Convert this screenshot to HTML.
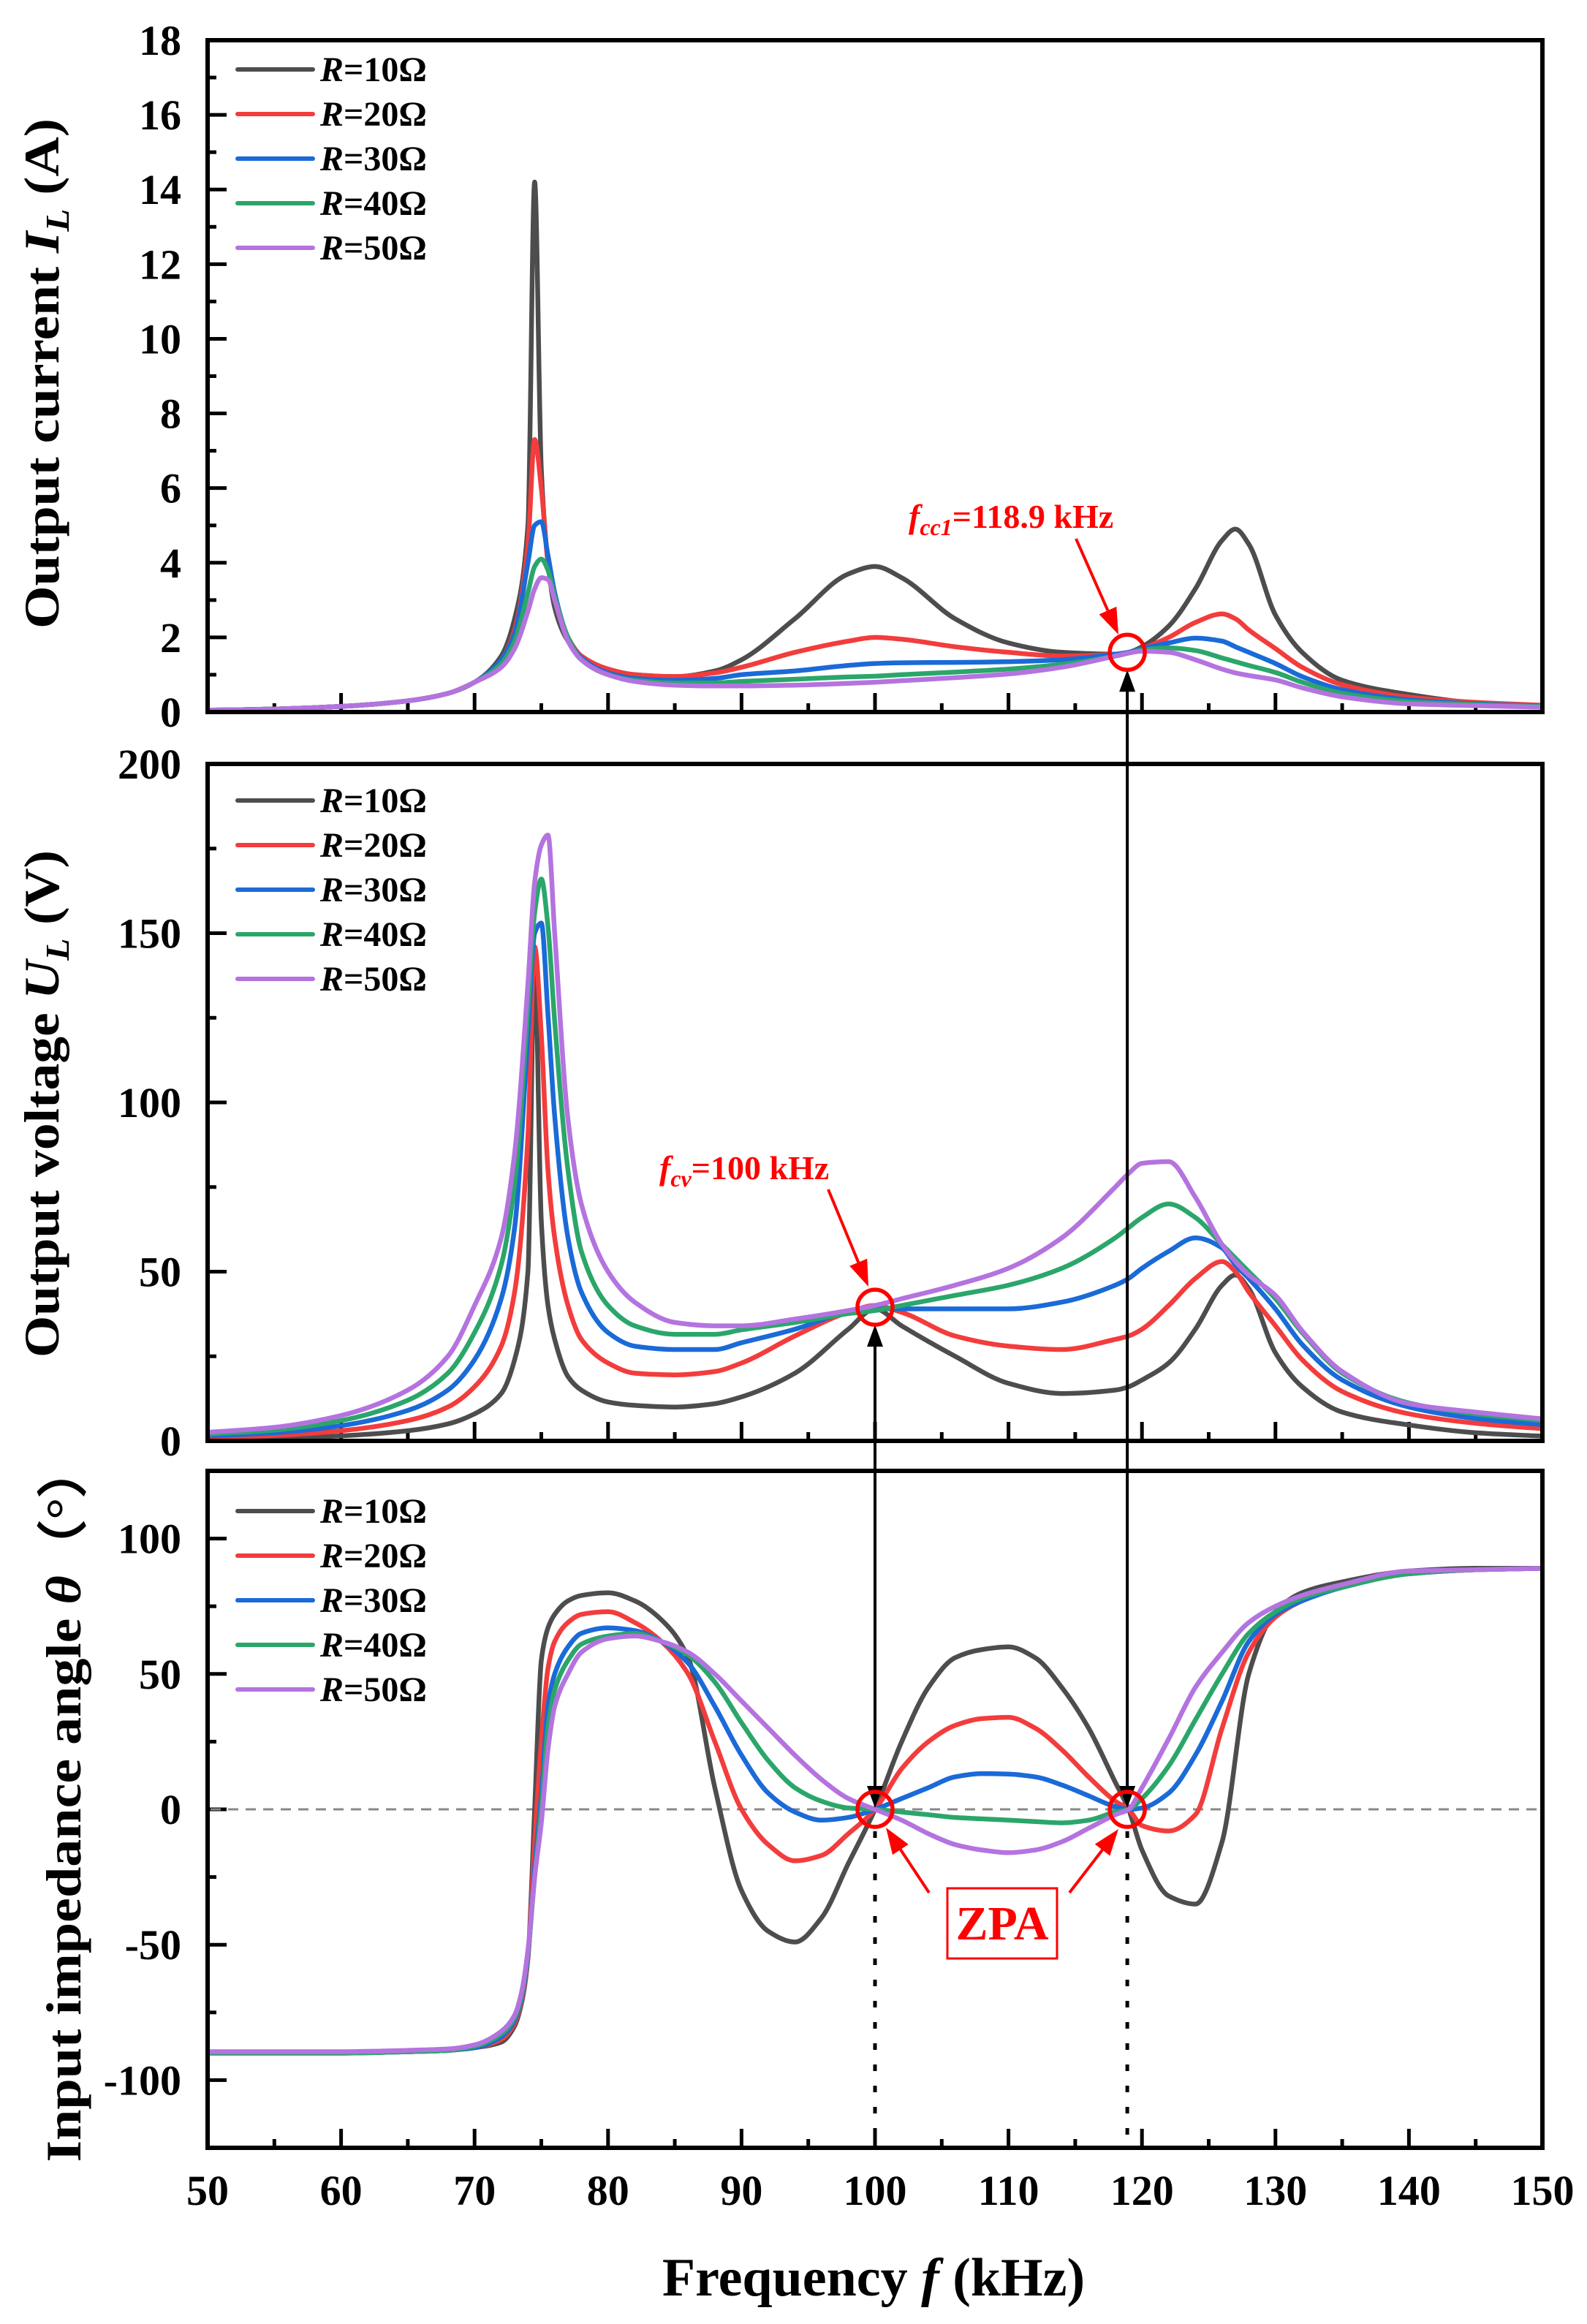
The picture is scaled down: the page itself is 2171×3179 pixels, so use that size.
<!DOCTYPE html>
<html><head><meta charset="utf-8"><style>
html,body{margin:0;padding:0;background:#fff;}
svg{display:block;}
text{font-family:"Liberation Serif",serif;font-weight:bold;}
</style></head><body>
<svg id="fig" xmlns="http://www.w3.org/2000/svg" width="2171" height="3179" viewBox="0 0 2171 3179">
<rect width="2171" height="3179" fill="#fff"/>
<g id="layer"></g>
</svg>
<script>
// ---------- data ----------
const freqIU = [50,55,60,65,68,70,72,73,74,74.5,75,75.5,76,77,78,80,82,85,88,90,94,98,100,102,106,110,114,118,119,120,122,124,126,127,128,130,132,135,140,145,150];
const seriesNames = ["R=10Ω","R=20Ω","R=30Ω","R=40Ω","R=50Ω"];
const current10 = [0.05,0.08,0.15,0.3,0.5,0.8,1.5,2.5,5,14.2,6.5,4,2.8,1.9,1.5,1.15,1.0,0.95,1.1,1.4,2.5,3.7,3.9,3.6,2.5,1.85,1.6,1.55,1.6,1.75,2.3,3.3,4.6,4.9,4.5,2.6,1.6,0.85,0.47,0.24,0.14];
const current20 = [0.05,0.08,0.15,0.3,0.5,0.8,1.4,2.2,4.5,7.3,6,4.0,3,2,1.5,1.15,1.0,0.95,1.05,1.2,1.6,1.9,2.0,1.95,1.75,1.6,1.5,1.55,1.6,1.7,2.0,2.4,2.63,2.5,2.2,1.7,1.2,0.73,0.4,0.26,0.18];
const current30 = [0.05,0.08,0.15,0.3,0.5,0.8,1.4,2.1,4.0,5.0,5.1,4.2,3.2,2.0,1.45,1.05,0.9,0.85,0.9,1.0,1.1,1.25,1.3,1.32,1.33,1.35,1.4,1.55,1.6,1.7,1.85,1.98,1.9,1.75,1.6,1.3,0.95,0.6,0.33,0.22,0.16];
const current40 = [0.05,0.08,0.15,0.3,0.5,0.8,1.3,1.9,3.2,3.9,4.1,3.8,3.1,2.0,1.4,1.0,0.85,0.78,0.78,0.82,0.88,0.94,0.96,1.0,1.07,1.15,1.28,1.5,1.58,1.66,1.72,1.65,1.45,1.35,1.25,1.06,0.8,0.5,0.28,0.2,0.15];
const current50 = [0.05,0.08,0.15,0.3,0.5,0.8,1.2,1.7,2.7,3.3,3.6,3.55,3.0,1.9,1.4,1.0,0.82,0.72,0.7,0.7,0.72,0.77,0.8,0.84,0.92,1.02,1.2,1.5,1.58,1.63,1.6,1.4,1.15,1.05,0.98,0.86,0.65,0.41,0.22,0.17,0.13];
const voltage10 = [0.5,0.8,1.5,3,5,8,14,24,50,142,65,40,30,19,15,11.5,10.5,10,11,13,20,33,39,34,25,17,14,15,16,18,23,33,46,49,45,26,16,8.5,4.7,2.4,1.4];
const voltage20 = [1,1.6,3,6,10,16,28,44,90,146,120,80,60,40,30,23,20,19.5,20.5,23,31,38,40,38,31,28,27,30,31,33,40,48,53,50,44,34,24,14.6,8,5.2,3.6];
const voltage30 = [1.5,2.4,4.5,9,15,24,42,63,120,150,153,126,96,60,44,32,28,27,27,29,33,38,39,39,39,39,41,46,48,51,56,60,57,52,48,39,28.5,18,10,6.6,4.8];
const voltage40 = [2,3.2,6,12,20,32,52,76,128,156,166,152,124,80,56,40,34,31.5,31.5,32.8,35,37.6,38.5,40,43,46,51,60,63,66,70,66,58,54,50,42,32,20,11.2,8,6];
const voltage50 = [2.5,4,7.5,15,25,40,60,85,135,165,176,179,150,95,70,50,41,35,34,34,36,38.5,40,42,46,51,60,75,79,82,82.5,72,58,53,49,43,32.5,20.5,11,8.5,6.5];
const freqAngle = [50,60,65,68,70,72,73,73.5,74,74.5,75,75.5,76,77,78,80,82,84,86,88,90,92,94,96,98,100,102,104,106,108,110,112,114,116,118,119,120,122,124,126,128,130,132,135,140,145,150];
const angle10 = [-90,-90,-89.5,-89,-88,-86,-80,-72,-55,0,55,67,72,77,79,80,77,70,56,8,-30,-45,-49,-40,-20,0,25,45,56,59,60,56,45,30,10,0,-15,-32,-35,-12,50,73,80,84,88,89,89];
const angle20 = [-90,-90,-89.5,-89,-88,-85,-79,-71,-55,-12,25,52,62,69,72,73,69,62,50,25,0,-13,-19,-17,-9,0,15,25,31,33.5,34,30,22,12,3,0,-6,-8,-2,30,58,71,77,82,87,88.5,89];
const angle30 = [-90,-90,-89.5,-89,-88,-84,-78,-70,-54,-22,5,38,50,60,65,67,66,62,54,38,20,6,-1,-4,-3,0,4,8,12,13.2,13,12,9,5,1,0,0.5,6,20,40,62,72,77,82,87,88.5,89];
const angle40 = [-90,-90,-89.5,-89,-87.5,-83,-77,-69,-53,-25,0,30,44,55,61,64,65,62,57,47,32,18,8,3,0.5,0,-1,-2,-3,-3.5,-4,-4.5,-5,-4,-1,0,4,16,33,50,65,73,78,82,87,88.5,89];
const angle50 = [-89.5,-89.5,-89,-88.5,-87,-82,-76,-68,-52,-25,-5,22,38,50,58,63,64,62,58,50,40,30,20,11,4,0,-4,-9,-13,-15,-16,-15,-12,-7,-2,0,8,26,45,58,69,75,79,83,88,88.5,89];
const xTicks = [50,60,70,80,90,100,110,120,130,140,150];
const yTicksI = [0,2,4,6,8,10,12,14,16,18];
const yTicksU = [0,50,100,150,200];
const yTicksA = [-100,-50,0,50,100];

// ---------- layout ----------
const NS = "http://www.w3.org/2000/svg";
const layer = document.getElementById("layer");
const X0 = 284, X1 = 2110;
function xs(f){ return X0 + (f-50)/100*(X1-X0); }
const P1 = {top:55, bot:974, min:0, max:18};
const P2 = {top:1045, bot:1971, min:0, max:200};
const P3 = {top:2012, bot:2938, min:-125, max:125};
function ys(p,v){ return p.bot - (v-p.min)/(p.max-p.min)*(p.bot-p.top); }
const colors = ["#4d4d4d","#f33c3c","#1a6ad8","#2ba66a","#b473df"];

function el(tag, attrs, parent){
  const e = document.createElementNS(NS, tag);
  for (const k in attrs) e.setAttribute(k, attrs[k]);
  (parent||layer).appendChild(e);
  return e;
}
function monoPath(px, py){
  const n = px.length, d=[], m=[];
  for (let i=0;i<n-1;i++) d.push((py[i+1]-py[i])/(px[i+1]-px[i]));
  m[0]=d[0]; m[n-1]=d[n-2];
  for (let i=1;i<n-1;i++){
    if (d[i-1]*d[i] <= 0) m[i]=0;
    else { const h0=px[i]-px[i-1], h1=px[i+1]-px[i];
      const w1=2*h1+h0, w2=h1+2*h0; m[i]=(w1+w2)/(w1/d[i-1]+w2/d[i]); }
  }
  let s = "M"+px[0].toFixed(1)+","+py[0].toFixed(1);
  for (let i=0;i<n-1;i++){
    const h=(px[i+1]-px[i])/3;
    s += " C"+(px[i]+h).toFixed(1)+","+(py[i]+m[i]*h).toFixed(1)+" "+(px[i+1]-h).toFixed(1)+","+(py[i+1]-m[i+1]*h).toFixed(1)+" "+px[i+1].toFixed(1)+","+py[i+1].toFixed(1);
  }
  return s;
}

function drawPanel(p, key, yticks, minorStep, label, labelLen, labelCenter, labelX, series, freqs, legendY, zeroLine){
  const g = el("g", {});
  
  
  const clip = el("clipPath", {id:"clip-"+key}, g);
  el("rect", {x:X0, y:p.top, width:X1-X0, height:p.bot-p.top}, clip);
  for (let v=p.min; v<=p.max+1e-9; v+=minorStep){
    const y=ys(p,v);
    const major = yticks.indexOf(Math.round(v*1000)/1000) >= 0;
    const t = el("line", {x1:X0, x2:X0+(major?26:12), y1:y, y2:y, stroke:"#000", "stroke-width":5}, g);
    
    
  }
  yticks.forEach(v=>{
    const t = el("text", {x:248, y:ys(p,v)+20, "text-anchor":"end", "font-size":58}, g);
    t.textContent = v < 0 ? "-"+Math.abs(v) : String(v);
    
    
  });
  for (let f=55; f<150; f+=5){
    const major = f%10===0;
    const t = el("line", {x1:xs(f), x2:xs(f), y1:p.bot, y2:p.bot-(major?26:12), stroke:"#000", "stroke-width":5}, g);
    
    
  }
  if (zeroLine){
    const zl = el("line", {x1:X0+4, x2:X1-4, y1:ys(p,0), y2:ys(p,0), stroke:"#888", "stroke-width":3, "stroke-dasharray":"14 10"}, g);
    
    
  }
  series.forEach((vals,i)=>{
    const path = el("path", {d:monoPath(freqs.map(xs), vals.map(v=>ys(p,v))), fill:"none", stroke:colors[i], "stroke-width":6.5, "stroke-linejoin":"round", "clip-path":"url(#clip-"+key+")"}, g);
    
    
  });
  const fr = el("rect", {x:X0, y:p.top, width:X1-X0, height:p.bot-p.top, fill:"none", stroke:"#000", "stroke-width":6}, g);
  
  
  const yl = el("text", {transform:"translate("+labelX+","+labelCenter+") rotate(-90)", "text-anchor":"middle", "font-size":68, textLength:labelLen, lengthAdjust:"spacingAndGlyphs"}, g);
  yl.innerHTML = label;
  
  
  const lg = el("g", {}, g);
  
  
  seriesNames.forEach((nm,i)=>{
    const y = legendY + i*61;
    const e = el("g", {}, lg);
    
    
    el("line", {x1:325, x2:428, y1:y, y2:y, stroke:colors[i], "stroke-width":6, "stroke-linecap":"round"}, e);
    const t = el("text", {x:438, y:y+16, "font-size":48}, e);
    t.innerHTML = '<tspan font-style="italic">R</tspan>'+nm.slice(1);
  });
}

drawPanel(P1, "current", yTicksI, 1, 'Output current <tspan font-style="italic">I</tspan><tspan font-style="italic" font-size="46" dy="14">L</tspan><tspan dy="-14"> (A)</tspan>', 698, 511, 80,
  [current10,current20,current30,current40,current50], freqIU, 95, false);
drawPanel(P2, "voltage", yTicksU, 25, 'Output voltage <tspan font-style="italic">U</tspan><tspan font-style="italic" font-size="46" dy="14">L</tspan><tspan dy="-14"> (V)</tspan>', 694, 1510, 80,
  [voltage10,voltage20,voltage30,voltage40,voltage50], freqIU, 1095, false);
drawPanel(P3, "angle", yTicksA, 25, 'Input impedance angle <tspan font-style="italic">θ</tspan>（°）', 985, 2465, 110,
  [angle10,angle20,angle30,angle40,angle50], freqAngle, 2067, true);

xTicks.forEach(f=>{
  const t = el("text", {x:xs(f), y:3016, "text-anchor":"middle", "font-size":58});
  t.textContent = f;
  
  
});
const xl = el("text", {x:1195, y:3140, "text-anchor":"middle", "font-size":74});
xl.innerHTML = 'Frequency <tspan font-style="italic">f</tspan> (kHz)';



// annotations
const fcv = 100, fcc = 118.9;
const ann = el("g", {});


function arrowHead(x, y, dir, color, parent){
  return el("polygon", {points: x+","+y+" "+(x-11)+","+(y+dir*30)+" "+(x+11)+","+(y+dir*30), fill:color}, parent);
}
[[fcv, ys(P2,39.5)+24], [fcc, ys(P1,1.6)+24]].forEach(([f, topY])=>{
  const x = xs(f), bot = ys(P3,0)-2;
  const l = el("line", {x1:x, x2:x, y1:topY+20, y2:bot-20, stroke:"#000", "stroke-width":4}, ann);
  
  
  arrowHead(x, topY, 1, "#000", ann);
  arrowHead(x, bot, -1, "#000", ann);
  const d = el("line", {x1:x, x2:x, y1:ys(P3,0)+30, y2:P3.bot, stroke:"#000", "stroke-width":5, "stroke-dasharray":"9 20"}, ann);
  
  
});
[[xs(fcc), ys(P1,1.6)], [xs(fcv), ys(P2,39.5)], [xs(fcv), ys(P3,0)], [xs(fcc), ys(P3,0)]].forEach(([cx,cy])=>{
  const c = el("circle", {cx:cx, cy:cy, r:24, fill:"none", stroke:"#f00", "stroke-width":5.5}, ann);
  
  
});
function redArrow(x1,y1,x2,y2){
  const a = Math.atan2(y2-y1, x2-x1), L=36, W=13;
  const bx = x2 - L*Math.cos(a), by = y2 - L*Math.sin(a);
  el("line", {x1:x1, y1:y1, x2:bx, y2:by, stroke:"#f00", "stroke-width":4}, ann);
  el("polygon", {points: x2+","+y2+" "+(bx+W*Math.sin(a))+","+(by-W*Math.cos(a))+" "+(bx-W*Math.sin(a))+","+(by+W*Math.cos(a)), fill:"#f00"}, ann);
}
redArrow(1472, 737, 1530, 868);
redArrow(1133, 1627, 1188, 1760);
redArrow(1271, 2589, 1212, 2500);
redArrow(1463, 2589, 1530, 2502);
const t1 = el("text", {x:1243, y:722, "font-size":46, fill:"#f00"}, ann);
t1.innerHTML = '<tspan font-style="italic">f</tspan><tspan font-style="italic" font-size="32" dy="10">cc1</tspan><tspan dy="-10">=118.9 kHz</tspan>';


const t2 = el("text", {x:902, y:1613, "font-size":46, fill:"#f00"}, ann);
t2.innerHTML = '<tspan font-style="italic">f</tspan><tspan font-style="italic" font-size="32" dy="10">cv</tspan><tspan dy="-10">=100 kHz</tspan>';


const zb = el("rect", {x:1296, y:2583, width:150, height:96, fill:"#fff", stroke:"#f00", "stroke-width":3}, ann);


const zt = el("text", {x:1371, y:2653, "text-anchor":"middle", "font-size":66, fill:"#f00"}, ann);
zt.textContent = "ZPA";


</script>
</body></html>
